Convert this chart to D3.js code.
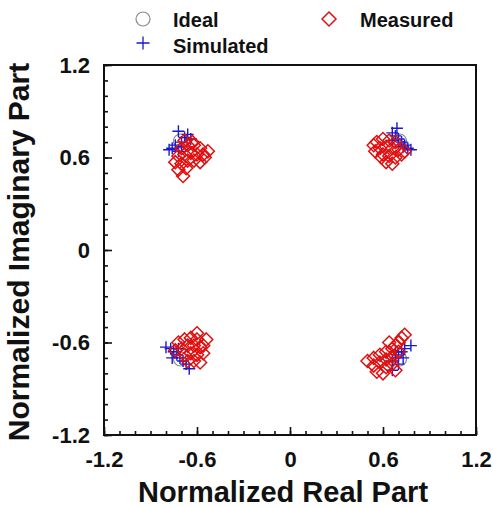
<!DOCTYPE html>
<html>
<head>
<meta charset="utf-8">
<script src="https://cdn.jsdelivr.net/npm/d3@7/dist/d3.min.js"></script>
<style>
  html, body { margin: 0; padding: 0; background: #fff; }
  svg { display: block; }
  text { font-family: "Liberation Sans", Arial, sans-serif; font-weight: bold; fill: #111; }
</style>
</head>
<body>
<svg id="chart" width="493" height="508"></svg>
<script>
// Constellation points (normalized real / imaginary parts)
const idealRe = [-0.707, 0.707, -0.707, 0.707];
const idealIm = [0.707, 0.707, -0.707, -0.707];

const simulatedRe = [
  -0.78, -0.76, -0.74, -0.72, -0.70, -0.68, -0.66, -0.64, -0.70, -0.72,
  0.66, 0.68, 0.70, 0.72, 0.74, 0.76, 0.78, 0.69, 0.66, 0.73,
  -0.80, -0.77, -0.75, -0.73, -0.71, -0.69, -0.67, -0.76, -0.72, -0.65,
  0.66, 0.68, 0.70, 0.72, 0.74, 0.78, 0.70, 0.66, 0.73, 0.68
];
const simulatedIm = [
  0.65, 0.66, 0.68, 0.64, 0.70, 0.73, 0.75, 0.72, 0.67, 0.77,
  0.76, 0.74, 0.72, 0.70, 0.68, 0.66, 0.65, 0.79, 0.71, 0.67,
  -0.63, -0.64, -0.66, -0.68, -0.70, -0.72, -0.74, -0.70, -0.64, -0.77,
  -0.72, -0.70, -0.68, -0.66, -0.64, -0.62, -0.74, -0.78, -0.70, -0.66
];

const measuredRe = [
  -0.70, -0.66, -0.62, -0.58, -0.56, -0.60, -0.64, -0.68, -0.72, -0.66, -0.62, -0.70, -0.74, -0.72, -0.67, -0.63, -0.68, -0.53, -0.55, -0.58, -0.69,
  0.56, 0.60, 0.64, 0.68, 0.58, 0.62, 0.66, 0.70, 0.74, 0.60, 0.64, 0.68, 0.72, 0.62, 0.66, 0.54, 0.55, 0.59,
  -0.72, -0.68, -0.64, -0.60, -0.70, -0.66, -0.62, -0.58, -0.68, -0.64, -0.60, -0.56, -0.62, -0.58, -0.66, -0.74, -0.60, -0.56, -0.54,
  0.50, 0.54, 0.58, 0.62, 0.66, 0.70, 0.72, 0.54, 0.58, 0.62, 0.66, 0.70, 0.62, 0.66, 0.68, 0.64, 0.68, 0.56, 0.60, 0.74
];
const measuredIm = [
  0.66, 0.68, 0.68, 0.66, 0.62, 0.62, 0.63, 0.62, 0.61, 0.58, 0.58, 0.56, 0.57, 0.52, 0.53, 0.70, 0.71, 0.64, 0.60, 0.57, 0.48,
  0.70, 0.72, 0.71, 0.70, 0.66, 0.67, 0.66, 0.65, 0.64, 0.62, 0.61, 0.60, 0.62, 0.57, 0.56, 0.68, 0.64, 0.60,
  -0.60, -0.58, -0.57, -0.58, -0.64, -0.62, -0.62, -0.63, -0.68, -0.67, -0.68, -0.67, -0.72, -0.73, -0.72, -0.65, -0.54, -0.62, -0.58,
  -0.72, -0.70, -0.68, -0.66, -0.64, -0.60, -0.57, -0.75, -0.73, -0.71, -0.69, -0.66, -0.76, -0.74, -0.62, -0.60, -0.78, -0.79, -0.80, -0.55
];

const majorTicks = [-1.2, -0.6, 0, 0.6, 1.2];
const tickText = ["-1.2", "-0.6", "0", "0.6", "1.2"];

const svg = d3.select("#chart");
const plotLeft = 104, plotRight = 476, plotTop = 65, plotBottom = 435;

const x = d3.scaleLinear().domain([-1.2, 1.2]).range([plotLeft, plotRight]);
const y = d3.scaleLinear().domain([-1.2, 1.2]).range([plotBottom, plotTop]);

const minorTicks = d3.range(-12, 13).map(d => d / 10);

// Axes with inward ticks on bottom and left
const xAxisMinor = d3.axisBottom(x).tickValues(minorTicks).tickSize(-4).tickFormat("");
const xAxisMajor = d3.axisBottom(x).tickValues(majorTicks).tickSize(-8)
  .tickFormat((d, i) => tickText[i]).tickPadding(16);
const yAxisMinor = d3.axisLeft(y).tickValues(minorTicks).tickSize(-4).tickFormat("");
const yAxisMajor = d3.axisLeft(y).tickValues(majorTicks).tickSize(-8)
  .tickFormat((d, i) => tickText[i]).tickPadding(14);

function styleAxis(g) {
  g.select(".domain").remove();
  g.selectAll("line").attr("stroke", "#111").attr("stroke-width", 1.6);
  g.selectAll("text").attr("font-size", 22).attr("font-family", "Liberation Sans, Arial, sans-serif")
    .attr("font-weight", "bold").attr("fill", "#111");
}

svg.append("g").attr("transform", `translate(0,${plotBottom})`).call(xAxisMinor).call(styleAxis);
svg.append("g").attr("transform", `translate(0,${plotBottom})`).call(xAxisMajor).call(styleAxis);
svg.append("g").attr("transform", `translate(${plotLeft},0)`).call(yAxisMinor).call(styleAxis);
svg.append("g").attr("transform", `translate(${plotLeft},0)`).call(yAxisMajor).call(styleAxis);

// Plot frame
svg.append("rect")
  .attr("x", plotLeft).attr("y", plotTop)
  .attr("width", plotRight - plotLeft).attr("height", plotBottom - plotTop)
  .attr("fill", "none").attr("stroke", "#111").attr("stroke-width", 2);

// Axis titles
svg.append("text")
  .attr("x", (plotLeft + plotRight) / 2 - 7).attr("y", 502)
  .attr("text-anchor", "middle").attr("font-size", 29)
  .text("Normalized Real Part");
svg.append("text")
  .attr("transform", `translate(29,${(plotTop + plotBottom) / 2 + 2}) rotate(-90)`)
  .attr("text-anchor", "middle").attr("font-size", 30)
  .text("Normalized Imaginary Part");

const plot = svg.append("g");

// Symbol shapes
const diamond = (s) => `M0,${-s}L${s},0L0,${s}L${-s},0Z`;
const plus = (s) => `M${-s},0H${s}M0,${-s}V${s}`;

const blue = "#1a1acc", red = "#e01010", gray = "#8a8a8a";

// Ideal points
plot.selectAll("circle.ideal").data(idealRe)
  .join("circle").attr("class", "ideal")
  .attr("cx", (d) => x(d)).attr("cy", (d, i) => y(idealIm[i]))
  .attr("r", 7).attr("fill", "none").attr("stroke", gray).attr("stroke-width", 1.2);

// Simulated points
plot.selectAll("path.sim").data(simulatedRe)
  .join("path").attr("class", "sim")
  .attr("transform", (d, i) => `translate(${x(d)},${y(simulatedIm[i])})`)
  .attr("d", plus(6)).attr("fill", "none").attr("stroke", blue).attr("stroke-width", 1.4);

// Measured points
plot.selectAll("path.meas").data(measuredRe)
  .join("path").attr("class", "meas")
  .attr("transform", (d, i) => `translate(${x(d)},${y(measuredIm[i])})`)
  .attr("d", diamond(6.5)).attr("fill", "none").attr("stroke", red).attr("stroke-width", 1.5);

// Legend
const legend = svg.append("g");
legend.append("circle").attr("cx", 143).attr("cy", 19).attr("r", 7)
  .attr("fill", "none").attr("stroke", gray).attr("stroke-width", 1.2);
legend.append("text").attr("x", 173).attr("y", 27).attr("font-size", 20).text("Ideal");
legend.append("path").attr("transform", "translate(143,43)").attr("d", plus(6.5))
  .attr("stroke", blue).attr("stroke-width", 1.3).attr("fill", "none");
legend.append("text").attr("x", 173).attr("y", 53).attr("font-size", 20).text("Simulated");
legend.append("path").attr("transform", "translate(329,19)").attr("d", diamond(7))
  .attr("stroke", red).attr("stroke-width", 1.5).attr("fill", "none");
legend.append("text").attr("x", 360).attr("y", 27).attr("font-size", 20).text("Measured");
</script>
</body>
</html>
